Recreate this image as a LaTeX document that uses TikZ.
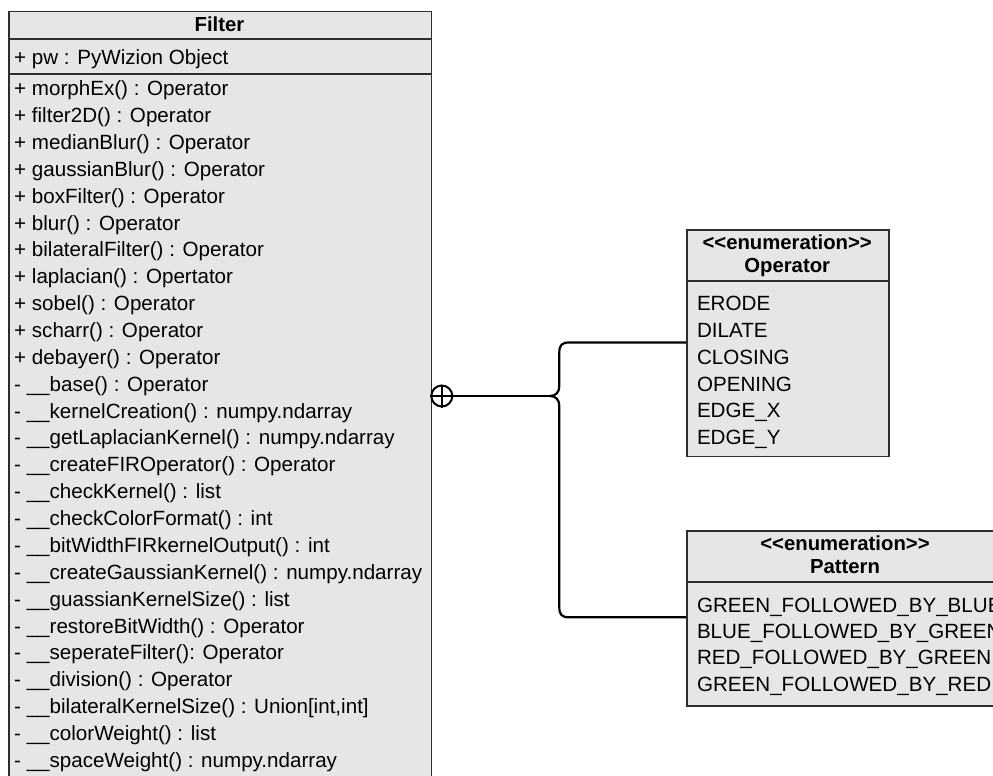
\documentclass[tikz,border=0pt]{standalone}
\usepackage{fontspec}
\setmainfont{Liberation Sans}
\usetikzlibrary{calc}
\definecolor{boxfill}{HTML}{E6E6E6}
\definecolor{boxline}{HTML}{2E2E2E}
\tikzset{
  umlbox/.style={draw=boxline, line width=1.6pt, fill=boxfill, rectangle, inner sep=0pt, anchor=north west},
  sepline/.style={draw=boxline, line width=1.6pt},
  txt/.style={anchor=west, inner sep=0pt, font=\fontsize{20.6}{24}\selectfont, text height=0.716em, text depth=0pt, yshift=-3.8pt},
  ttl/.style={anchor=center, inner sep=0pt, font=\fontsize{20.3}{24}\selectfont\bfseries, text height=0.716em, text depth=0pt, yshift=-3.8pt},
  conn/.style={draw=black, line width=2.2pt},
}
\begin{document}
\begin{tikzpicture}[x=1pt,y=-1pt]
\useasboundingbox (0,0) rectangle (993,776);
\clip (0,0) rectangle (993,776);
\fill[white] (0,0) rectangle (993,776);

% Filter class
\node[umlbox, minimum width=422.4pt, minimum height=790pt] (filter) at (8.3,10.7) {};
\draw[sepline] ([yshift=-28.3pt]filter.north west) -- ([yshift=-28.3pt]filter.north east);
\draw[sepline] ([yshift=-63.3pt]filter.north west) -- ([yshift=-63.3pt]filter.north east);
\node[ttl] (ftitle) at (219.5,24.3) {Filter};
\node[txt] (fattr) at (14,56.8) {+ pw : PyWizion Object};
\foreach \t [count=\i from 0] in {
  {+ morphEx() : Operator},
  {+ filter2D() : Operator},
  {+ medianBlur() : Operator},
  {+ gaussianBlur() : Operator},
  {+ boxFilter() : Operator},
  {+ blur() : Operator},
  {+ bilateralFilter() : Operator},
  {+ laplacian() : Opertator},
  {+ sobel() : Operator},
  {+ scharr() : Operator},
  {+ debayer() : Operator},
  {- \_\_base() : Operator},
  {- \_\_kernelCreation() : numpy.ndarray},
  {- \_\_getLaplacianKernel() : numpy.ndarray},
  {- \_\_createFIROperator() : Operator},
  {- \_\_checkKernel() : list},
  {- \_\_checkColorFormat() : int},
  {- \_\_bitWidthFIRkernelOutput() : int},
  {- \_\_createGaussianKernel() : numpy.ndarray},
  {- \_\_guassianKernelSize() : list},
  {- \_\_restoreBitWidth() : Operator},
  {- \_\_seperateFilter(): Operator},
  {- \_\_division() : Operator},
  {- \_\_bilateralKernelSize() : Union[int,int]},
  {- \_\_colorWeight() : list},
  {- \_\_spaceWeight() : numpy.ndarray}
}{
  \node[txt] (m\i) at (14,{88.3+26.87*\i}) {\t};
}

% Operator enumeration
\node[umlbox, minimum width=202.3pt, minimum height=226.4pt] (op) at (686,229.3) {};
\draw[sepline] ([yshift=-51.7pt]op.north west) -- ([yshift=-51.7pt]op.north east);
\node[ttl] (opst) at (787.2,242) {<{}<enumeration>{}>};
\node[ttl] (opname) at (787.2,264.8) {Operator};
\foreach \t [count=\i from 0] in {ERODE,DILATE,CLOSING,OPENING,EDGE\_X,EDGE\_Y}{
  \node[txt] (o\i) at (696.8,{303.3+26.8*\i}) {\t};
}

% Pattern enumeration
\node[umlbox, minimum width=318pt, minimum height=175pt] (pat) at (686,530) {};
\draw[sepline] ([yshift=-51.7pt]pat.north west) -- ([yshift=-51.7pt]pat.north east);
\node[ttl] (patst) at (845,543.3) {<{}<enumeration>{}>};
\node[ttl] (patname) at (845,566) {Pattern};
\foreach \t [count=\i from 0] in {GREEN\_FOLLOWED\_BY\_BLUE,BLUE\_FOLLOWED\_BY\_GREEN,RED\_FOLLOWED\_BY\_GREEN,GREEN\_FOLLOWED\_BY\_RED}{
  \node[txt] (p\i) at (696.8,{605+26.3*\i}) {\t};
}

% nesting connector
\node[circle, draw=black, fill=white, line width=2pt, minimum size=21pt, inner sep=0pt] (circ) at (441.8,396) {};
\draw[black, line width=1.8pt] (circ.north) -- (circ.south) (circ.west) -- (circ.east);
\coordinate (j) at (550,396);
\coordinate (opy) at (600,342.5);
\coordinate (paty) at (600,617.3);
\draw[conn] (circ.east) -- (j);
\draw[conn] (j) .. controls (556,396) and (559.3,392) .. (559.3,386)
  -- (559.3,352.5) .. controls (559.3,345) and (562,342.5) .. (569.3,342.5)
  -- (op.west |- opy);
\draw[conn] (j) .. controls (556,396) and (559.3,400) .. (559.3,406)
  -- (559.3,607.3) .. controls (559.3,614.8) and (562,617.3) .. (569.3,617.3)
  -- (pat.west |- paty);
\end{tikzpicture}
\end{document}
